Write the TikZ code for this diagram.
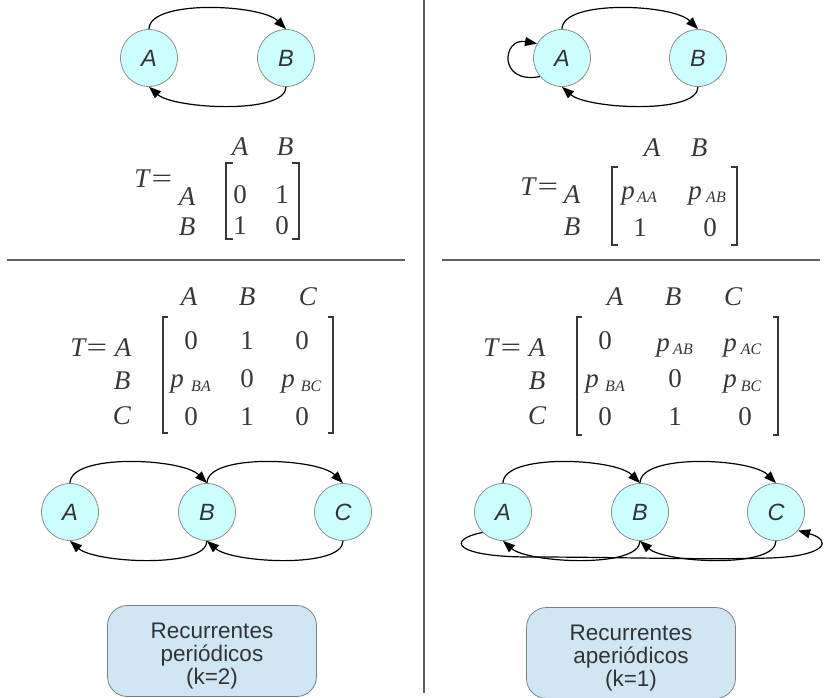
\documentclass[tikz,border=0pt]{standalone}
\usepackage{fontspec}
\setmainfont{Liberation Serif}
\newfontfamily\lsans{Liberation Sans}
\usetikzlibrary{arrows.meta}
\definecolor{nodefill}{RGB}{204,255,255}
\definecolor{nodeline}{RGB}{140,140,140}
\definecolor{boxfill}{RGB}{207,231,245}
\definecolor{boxline}{RGB}{128,128,128}
\definecolor{ink}{RGB}{51,51,51}
\definecolor{mink}{RGB}{55,55,55}
\definecolor{rulegray}{RGB}{95,95,95}
\newcommand{\wideeq}{\scalebox{1.35}[1]{=}}
\begin{document}
\begin{tikzpicture}[x=1pt,y=-1pt,
 state/.style={circle,draw=nodeline,line width=0.8pt,fill=nodefill,minimum size=57pt,inner sep=0pt,text=ink,font=\lsans\itshape\fontsize{23.5}{23.5}\selectfont},
 arr/.style={draw=black,line width=1.2pt,-{Triangle[length=12pt,width=9pt]}},
 mt/.style={anchor=base,inner sep=0pt,text=mink,font=\fontsize{27}{27}\selectfont},
 mi/.style={anchor=base,inner sep=0pt,text=mink,font=\itshape\fontsize{27}{27}\selectfont},
 ms/.style={anchor=base,inner sep=0pt,text=mink,font=\itshape\fontsize{16}{16}\selectfont},
 brk/.style={draw=mink,line width=1.4pt},
 sep/.style={draw=rulegray,line width=1.4pt},
 result/.style={draw=boxline,line width=0.8pt,fill=boxfill,rounded corners=20pt,minimum width=209pt,minimum height=91pt,inner sep=0pt,text=ink,font=\lsans\fontsize{22.5}{23}\selectfont}
]
\useasboundingbox (0,0) rectangle (825,698);

% separators
\draw[sep] (424,0) -- (424,693);
\draw[sep] (7,260) -- (405,260);
\draw[sep] (442,260) -- (820,260);

% ---------- top left graph ----------
\node[state] (tlA) at (149,58) {A};
\node[state] (tlB) at (286,58) {B};
\draw[arr] (tlA.north) .. controls +(0,-30) and +(-25,-25) .. (tlB.north);
\draw[arr] (tlB.south) .. controls +(0,28) and +(25,22) .. (tlA.south);

% ---------- top right graph ----------
\node[state] (trA) at (562,58) {A};
\node[state] (trB) at (698,58) {B};
\draw[arr] (trA.north) .. controls +(0,-30) and +(-25,-25) .. (trB.north);
\draw[arr] (trB.south) .. controls +(0,28) and +(25,22) .. (trA.south);
\draw[arr] (trA.220) .. controls +(-42,8) and +(-35,-6) .. (trA.150);

% ---------- top left matrix ----------
\node[mi] (tlca) at (240,156) {A};
\node[mi] (tlcb) at (285,156) {B};
\node[mi] (tlT) at (142,188) {T};
\node[mt] (tleq) at (162,188) {\wideeq};
\node[mi] (tlra) at (187,205) {A};
\node[mi] (tlrb) at (187,235) {B};
\node[mt] (tl11) at (240,204) {0};
\node[mt] (tl12) at (282,204) {1};
\node[mt] (tl21) at (240,234) {1};
\node[mt] (tl22) at (282,234) {0};
\draw[brk] (233,163) -- (226,163) -- (226,239) -- (233,239);
\draw[brk] (292,163) -- (299,163) -- (299,239) -- (292,239);

% ---------- top right matrix ----------
\node[mi] (trca) at (652,157) {A};
\node[mi] (trcb) at (699,157) {B};
\node[mi] (trT) at (528,195) {T};
\node[mt] (treq) at (548,195) {\wideeq};
\node[mi] (trra) at (572,204) {A};
\node[mi] (trrb) at (572,235) {B};
\node[mi] (tr11) at (628,200) {p};
\node[ms] (tr11s) at (647,203) {AA};
\node[mi] (tr12) at (695,200) {p};
\node[ms] (tr12s) at (716,203) {AB};
\node[mt] (tr21) at (640,236) {1};
\node[mt] (tr22) at (710,236) {0};
\draw[brk] (618,167) -- (612,167) -- (612,245) -- (618,245);
\draw[brk] (731,167) -- (737,167) -- (737,245) -- (731,245);

% ---------- bottom left matrix ----------
\node[mi] (blca) at (189,305.5) {A};
\node[mi] (blcb) at (247,305.5) {B};
\node[mi] (blcc) at (308,305.5) {C};
\node[mi] (blT) at (78,356.5) {T};
\node[mt] (bleq) at (97,356.5) {\wideeq};
\node[mi] (blra) at (123,356.5) {A};
\node[mi] (blrb) at (122,389.5) {B};
\node[mi] (blrc) at (122,424.5) {C};
\node[mt] (bl11) at (191,349.5) {0};
\node[mt] (bl12) at (247,349.5) {1};
\node[mt] (bl13) at (302,349.5) {0};
\node[mi] (bl21) at (177,387) {p};
\node[ms] (bl21s) at (201,391) {BA};
\node[mt] (bl22) at (247,387.5) {0};
\node[mi] (bl23) at (288,387) {p};
\node[ms] (bl23s) at (311,391) {BC};
\node[mt] (bl31) at (191,425.5) {0};
\node[mt] (bl32) at (247,425.5) {1};
\node[mt] (bl33) at (302,425.5) {0};
\draw[brk] (168,317) -- (163,317) -- (163,433) -- (168,433);
\draw[brk] (328,317) -- (333,317) -- (333,433) -- (328,433);

% ---------- bottom right matrix ----------
\node[mi] (brca) at (615,305.5) {A};
\node[mi] (brcb) at (673,305.5) {B};
\node[mi] (brcc) at (733,305.5) {C};
\node[mi] (brT) at (491,356.5) {T};
\node[mt] (breq) at (511,356.5) {\wideeq};
\node[mi] (brra) at (537,356.5) {A};
\node[mi] (brrb) at (537,389.5) {B};
\node[mi] (brrc) at (537,424.5) {C};
\node[mt] (br11) at (605,349.5) {0};
\node[mi] (br12) at (663,351) {p};
\node[ms] (br12s) at (683,354) {AB};
\node[mi] (br13) at (730,351) {p};
\node[ms] (br13s) at (751,354) {AC};
\node[mi] (br21) at (592,387) {p};
\node[ms] (br21s) at (615,391) {BA};
\node[mt] (br22) at (675,387.5) {0};
\node[mi] (br23) at (730,387) {p};
\node[ms] (br23s) at (751,391) {BC};
\node[mt] (br31) at (605,425.5) {0};
\node[mt] (br32) at (675,425.5) {1};
\node[mt] (br33) at (745,425.5) {0};
\draw[brk] (582,317) -- (577,317) -- (577,435) -- (582,435);
\draw[brk] (773,317) -- (778,317) -- (778,435) -- (773,435);

% ---------- bottom left graph ----------
\node[state] (blA) at (70,512) {A};
\node[state] (blB) at (207,512) {B};
\node[state] (blC) at (343,512) {C};
\draw[arr] (blA.north) .. controls +(0,-30) and +(-25,-25) .. (blB.north);
\draw[arr] (blB.north) .. controls +(0,-30) and +(-25,-25) .. (blC.north);
\draw[arr] (blC.south) .. controls +(0,28) and +(25,22) .. (blB.south);
\draw[arr] (blB.south) .. controls +(0,28) and +(25,22) .. (blA.south);

% ---------- bottom right graph ----------
\node[state] (brA) at (503,512) {A};
\node[state] (brB) at (640,512) {B};
\node[state] (brC) at (776,512) {C};
\draw[arr] (brA.north) .. controls +(0,-30) and +(-25,-25) .. (brB.north);
\draw[arr] (brB.north) .. controls +(0,-30) and +(-25,-25) .. (brC.north);
\draw[arr] (brC.south) .. controls +(0,28) and +(25,22) .. (brB.south);
\draw[arr] (brB.south) .. controls +(0,28) and +(25,22) .. (brA.south);
\draw[arr] (brA.225) .. controls (445,540) and (455,557) .. (530,557)
  .. controls (620,557) and (700,560) .. (770,558)
  .. controls (828,556) and (832,540) .. (brC.-40);

% ---------- result boxes ----------
\node[result] (resL) at (212,651) {\raisebox{-6pt}[\height][\depth]{\begin{tabular}{@{}c@{}}Recurrentes\\periódicos\\(k=2)\end{tabular}}};
\node[result] (resR) at (631,653) {\raisebox{-6pt}[\height][\depth]{\begin{tabular}{@{}c@{}}Recurrentes\\aperiódicos\\(k=1)\end{tabular}}};
\end{tikzpicture}
\end{document}
